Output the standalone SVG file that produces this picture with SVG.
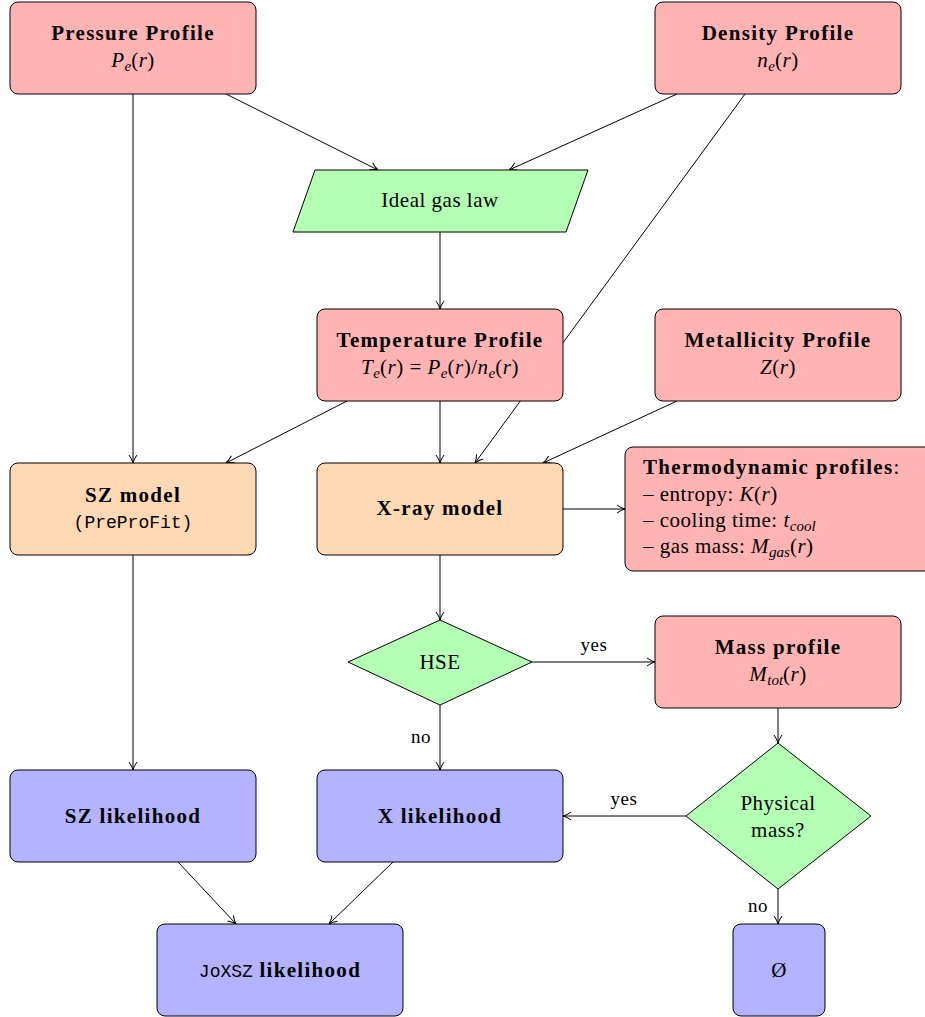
<svg xmlns="http://www.w3.org/2000/svg" width="925" height="1017" viewBox="0 0 925 1017">
<defs>
<marker id="arr" markerWidth="12" markerHeight="12" refX="9" refY="5" orient="auto" markerUnits="userSpaceOnUse">
<path d="M1,1 Q5,4 9,5 Q5,6 1,9" fill="none" stroke="#000" stroke-width="1"/>
</marker>
<style>
.red{fill:#ffb3b3;stroke:#000;stroke-width:1}
.grn{fill:#b3ffb3;stroke:#000;stroke-width:1}
.org{fill:#ffd9b3;stroke:#000;stroke-width:1}
.blu{fill:#b3b3ff;stroke:#000;stroke-width:1}
text{font-family:"Liberation Serif","DejaVu Serif",serif;font-size:21px;fill:#000;letter-spacing:0.5px}
.c{text-anchor:middle}
.b{font-weight:bold;letter-spacing:1.3px}
.i{font-style:italic}
.s{font-size:15px;font-style:italic;letter-spacing:0}
.mono{font-family:"Liberation Mono","DejaVu Sans Mono",monospace;font-size:18px;letter-spacing:0}
.lbl{font-size:19px}
.con line{stroke:#000;stroke-width:1;fill:none;marker-end:url(#arr)}
</style>
</defs>
<rect width="925" height="1017" fill="#fff"/>
<g id="connectors" class="con">
<line x1="133" y1="94" x2="133" y2="463"/>
<line x1="226" y1="94" x2="378" y2="170"/>
<line x1="677" y1="94" x2="509" y2="170"/>
<line x1="745" y1="94" x2="475" y2="463"/>
<line x1="440" y1="232" x2="440" y2="309"/>
<line x1="347" y1="401" x2="226" y2="463"/>
<line x1="440" y1="401" x2="440" y2="463"/>
<line x1="677" y1="401" x2="543" y2="463"/>
<line x1="563" y1="509" x2="625" y2="509"/>
<line x1="440" y1="555" x2="440" y2="620"/>
<line x1="532" y1="662" x2="655" y2="662"/>
<line x1="440" y1="705" x2="440" y2="770"/>
<line x1="778" y1="708" x2="778" y2="743"/>
<line x1="686" y1="816" x2="563" y2="816"/>
<line x1="778" y1="889" x2="778" y2="924"/>
<line x1="133" y1="555" x2="133" y2="770"/>
<line x1="178" y1="862" x2="236" y2="924"/>
<line x1="393" y1="862" x2="329" y2="924"/>
</g>
<g id="edge-labels">
<text class="lbl c" x="594" y="651">yes</text>
<text class="lbl c" x="421" y="743">no</text>
<text class="lbl c" x="624" y="805">yes</text>
<text class="lbl c" x="758" y="912">no</text>
</g>
<g id="pressure">
<rect class="red" x="10" y="2" width="246" height="92" rx="8"/>
<text class="c b" x="133" y="40">Pressure Profile</text>
<text class="c" x="133" y="67"><tspan class="i">P</tspan><tspan class="s" dy="4">e</tspan><tspan dy="-4">(</tspan><tspan class="i">r</tspan>)</text>
</g>
<g id="density">
<rect class="red" x="655" y="2" width="246" height="92" rx="8"/>
<text class="c b" x="778" y="40">Density Profile</text>
<text class="c" x="778" y="67"><tspan class="i">n</tspan><tspan class="s" dy="4">e</tspan><tspan dy="-4">(</tspan><tspan class="i">r</tspan>)</text>
</g>
<g id="idealgas">
<polygon class="grn" points="315,170 588,170 566,232 293,232"/>
<text class="c" x="440" y="207">Ideal gas law</text>
</g>
<g id="temperature">
<rect class="red" x="317" y="309" width="246" height="92" rx="8"/>
<text class="c b" x="440" y="347">Temperature Profile</text>
<text class="c" x="440" y="374"><tspan class="i">T</tspan><tspan class="s" dy="4">e</tspan><tspan dy="-4">(</tspan><tspan class="i">r</tspan>) = <tspan class="i">P</tspan><tspan class="s" dy="4">e</tspan><tspan dy="-4">(</tspan><tspan class="i">r</tspan>)/<tspan class="i">n</tspan><tspan class="s" dy="4">e</tspan><tspan dy="-4">(</tspan><tspan class="i">r</tspan>)</text>
</g>
<g id="metallicity">
<rect class="red" x="655" y="309" width="246" height="92" rx="8"/>
<text class="c b" x="778" y="347">Metallicity Profile</text>
<text class="c" x="778" y="374"><tspan class="i">Z</tspan>(<tspan class="i">r</tspan>)</text>
</g>
<g id="szmodel">
<rect class="org" x="10" y="463" width="246" height="92" rx="8"/>
<text class="c b" x="133" y="502">SZ model</text>
<text class="c mono" x="133" y="528">(PreProFit)</text>
</g>
<g id="xraymodel">
<rect class="org" x="317" y="463" width="246" height="92" rx="8"/>
<text class="c b" x="440" y="515">X-ray model</text>
</g>
<g id="thermo">
<rect class="red" x="625" y="447" width="310" height="124" rx="8"/>
<text x="643" y="474"><tspan class="b">Thermodynamic profiles</tspan>:</text>
<text x="643" y="501">– entropy: <tspan class="i">K</tspan>(<tspan class="i">r</tspan>)</text>
<text x="643" y="527">– cooling time: <tspan class="i">t</tspan><tspan class="s" dy="4">cool</tspan></text>
<text x="643" y="553">– gas mass: <tspan class="i">M</tspan><tspan class="s" dy="4">gas</tspan><tspan dy="-4">(</tspan><tspan class="i">r</tspan>)</text>
</g>
<g id="hse">
<polygon class="grn" points="440,620 532,662 440,705 348,662"/>
<text class="c" x="440" y="669">HSE</text>
</g>
<g id="mass">
<rect class="red" x="655" y="616" width="246" height="92" rx="8"/>
<text class="c b" x="778" y="654">Mass profile</text>
<text class="c" x="778" y="681"><tspan class="i">M</tspan><tspan class="s" dy="4">tot</tspan><tspan dy="-4">(</tspan><tspan class="i">r</tspan>)</text>
</g>
<g id="physical">
<polygon class="grn" points="778,743 871,816 778,889 686,816"/>
<text class="c" x="778" y="810">Physical</text>
<text class="c" x="778" y="837">mass?</text>
</g>
<g id="szlike">
<rect class="blu" x="10" y="770" width="246" height="92" rx="8"/>
<text class="c b" x="133" y="823">SZ likelihood</text>
</g>
<g id="xlike">
<rect class="blu" x="317" y="770" width="246" height="92" rx="8"/>
<text class="c b" x="440" y="823">X likelihood</text>
</g>
<g id="joxsz">
<rect class="blu" x="157" y="924" width="246" height="92" rx="8"/>
<text class="c" x="280" y="977"><tspan class="mono">JoXSZ</tspan><tspan class="b"> likelihood</tspan></text>
</g>
<g id="empty">
<rect class="blu" x="733" y="924" width="92" height="92" rx="8"/>
<text class="c" x="779" y="977">Ø</text>
</g>
</svg>
